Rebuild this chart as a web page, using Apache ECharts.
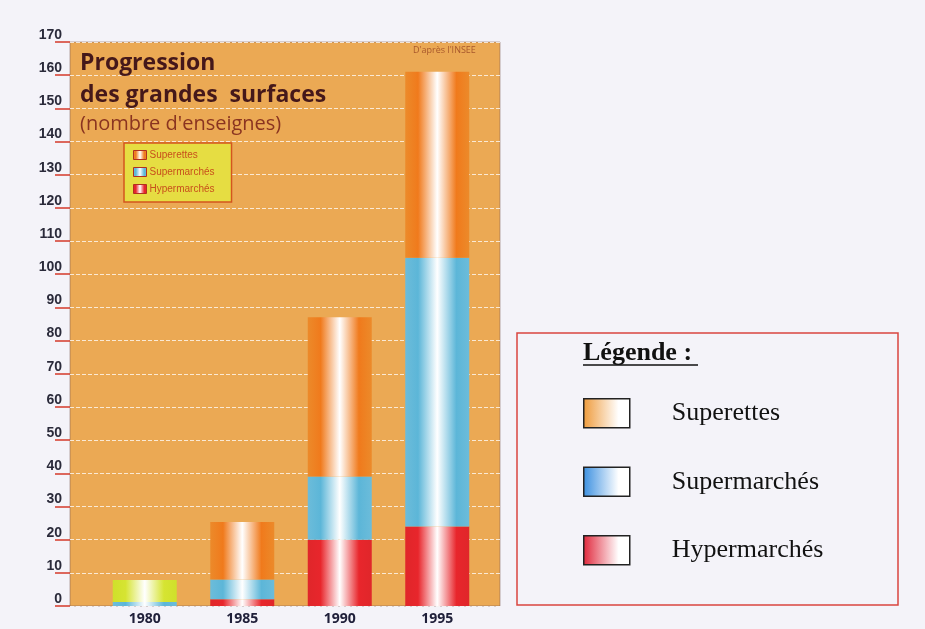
<!DOCTYPE html>
<html>
<head>
<meta charset="utf-8">
<script src="https://cdn.jsdelivr.net/npm/echarts@6/dist/echarts.min.js"></script>
<style>
  html, body { margin: 0; padding: 0; background: #f4f3f9; }
  #chart { width: 925px; height: 629px; }
</style>
</head>
<body>
<div id="chart"></div>
<script>
// data
var years = ['1980', '1985', '1990', '1995'];
var superettes = [6.6, 17.3, 48, 56];
var supermarches = [1.2, 6, 19, 81];
var hypermarches = [0, 2, 20, 24];
var seriesNames = ['Superettes', 'Supermarchés', 'Hypermarchés'];

function barFill(c, edge) {
    return {
        type: 'linear', x: 0, y: 0, x2: 1, y2: 0,
        colorStops: [
            { offset: 0, color: edge },
            { offset: 0.2, color: c },
            { offset: 0.5, color: '#ffffff' },
            { offset: 0.8, color: c },
            { offset: 1, color: edge }
        ]
    };
}
function swatchFill(c) {
    return {
        type: 'linear', x: 0, y: 0, x2: 1, y2: 0,
        colorStops: [
            { offset: 0, color: c },
            { offset: 0.75, color: '#ffffff' },
            { offset: 1, color: '#ffffff' }
        ]
    };
}

var orange = '#f07a1c', blue = '#5cb6d8', red = '#e8262c';
var fills = [barFill(orange, '#ec8a2a'), barFill(blue, '#6cbcda'), barFill(red, '#e0262a')];
var yellowFill = barFill('#d6e432', '#cfe02a');

var superettesData = superettes.map(function (v, i) {
    return i === 0 ? { value: v, itemStyle: { color: yellowFill } } : v;
});

var chart = echarts.init(document.getElementById('chart'));
var option = {
    backgroundColor: '#f4f3f9',
    animation: false,
    title: [
        {
            text: 'Progression\ndes grandes  surfaces',
            subtext: "(nombre d'enseignes)",
            left: 75, top: 42,
            itemGap: 3,
            textStyle: { fontFamily: 'Open Sans', fontWeight: 'bold', fontSize: 23, lineHeight: 32, color: '#45181a' },
            subtextStyle: { fontFamily: 'Open Sans', fontSize: 20, color: '#8a3420' }
        },
        {
            text: "D'après l'INSEE",
            left: 408, top: 41,
            textStyle: { fontFamily: 'Open Sans', fontSize: 9, fontWeight: 'normal', color: '#a8582c' }
        },
        {
            text: 'Légende :',
            left: 578, top: 335,
            textStyle: { fontFamily: 'Liberation Serif', fontWeight: 'bold', fontSize: 26, color: '#111' }
        }
    ],
    grid: [
        {
            // the orange panel with the value scale
            left: 70, right: 425, top: 42, bottom: 23,
            show: true,
            backgroundColor: '#eba954',
            borderColor: 'rgba(120,90,80,0.5)',
            borderWidth: 1
        },
        {
            // the bars
            left: 96, width: 390, top: 42, bottom: 23
        }
    ],
    legend: [
        {
            orient: 'vertical',
            left: 124, top: 143,
            backgroundColor: '#e6dd42',
            borderColor: '#d4561e',
            borderWidth: 1.5,
            padding: [7, 17, 8, 9],
            itemWidth: 13, itemHeight: 9, itemGap: 7,
            icon: 'rect',
            textStyle: { fontFamily: 'Liberation Sans', fontSize: 10, color: '#c8501c', padding: [0, 0, 0, -2] },
            data: seriesNames.map(function (n, i) {
                return { name: n, itemStyle: { color: fills[i], borderColor: '#b03020', borderWidth: 1 } };
            })
        },
        {
            orient: 'vertical',
            left: 578, top: 393,
            itemWidth: 46, itemHeight: 29, itemGap: 38,
            icon: 'rect',
            textStyle: { fontFamily: 'Liberation Serif', fontSize: 26, color: '#111', padding: [0, 0, 0, 37] },
            data: seriesNames.map(function (n, i) {
                var base = ['#ee9a3a', '#3a8fe0', '#e0263a'][i];
                return { name: n, itemStyle: { color: swatchFill(base), borderColor: '#222', borderWidth: 1.5 } };
            })
        }
    ],
    graphic: [
        {
            type: 'rect',
            shape: { x: 517, y: 333, width: 381, height: 272 },
            style: { fill: 'rgba(0,0,0,0)', stroke: '#d9463f', lineWidth: 1.5 },
            silent: true
        },
        {
            type: 'line',
            shape: { x1: 583, y1: 365, x2: 698, y2: 365 },
            style: { stroke: '#111', lineWidth: 1.5 },
            silent: true
        }
    ],
    xAxis: [
        { type: 'category', gridIndex: 0, data: years, show: false },
        {
            type: 'category', gridIndex: 1, data: years,
            axisLine: { show: false },
            axisTick: { show: false },
            axisLabel: { margin: 6, fontFamily: 'Open Sans', fontWeight: 'bold', fontSize: 14, color: '#20203a' }
        }
    ],
    yAxis: [
        {
            type: 'value', gridIndex: 0,
            min: 0, max: 170, interval: 10,
            axisLine: { show: false },
            axisTick: { show: true, length: 15, lineStyle: { color: '#d43a2a', width: 1.5 } },
            axisLabel: {
                margin: 8,
                verticalAlign: 'bottom',
                fontFamily: 'Liberation Sans', fontWeight: 'bold', fontSize: 14, color: '#2a2a3a'
            },
            splitLine: { lineStyle: { color: 'rgba(255,255,255,0.75)', type: 'dashed', width: 1 } }
        },
        {
            type: 'value', gridIndex: 1,
            min: 0, max: 170, interval: 10,
            show: false,
            splitLine: { show: false }
        }
    ],
    series: [
        { name: seriesNames[2], type: 'bar', xAxisIndex: 1, yAxisIndex: 1, stack: 'total', barWidth: 64, data: hypermarches, itemStyle: { color: fills[2] } },
        { name: seriesNames[1], type: 'bar', xAxisIndex: 1, yAxisIndex: 1, stack: 'total', barWidth: 64, data: supermarches, itemStyle: { color: fills[1] } },
        { name: seriesNames[0], type: 'bar', xAxisIndex: 1, yAxisIndex: 1, stack: 'total', barWidth: 64, data: superettesData, itemStyle: { color: fills[0] } }
    ]
};
chart.setOption(option);
</script>
</body>
</html>
